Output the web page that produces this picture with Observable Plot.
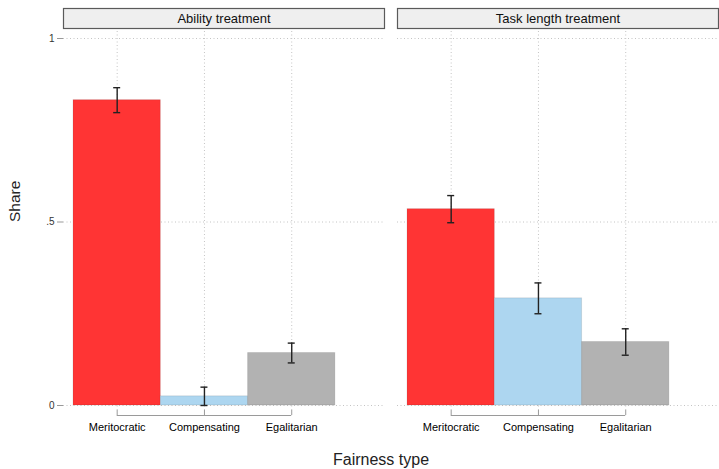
<!DOCTYPE html>
<html>
<head>
<meta charset="utf-8">
<script src="https://cdn.jsdelivr.net/npm/d3@7"></script>
<script src="https://cdn.jsdelivr.net/npm/@observablehq/plot@0.6"></script>
<style>
  body { margin: 0; background: #fff; }
</style>
</head>
<body>
<div id="chart"></div>
<script>
// Panels and categories
const treatments = ["Ability treatment", "Task length treatment"];
const fairnessTypes = ["Meritocratic", "Compensating", "Egalitarian"];

// Share of each fairness type, with 95% CI half-widths
const abilityShare = [0.832, 0.025, 0.143];
const abilityCI = [0.034, 0.025, 0.027];
const taskShare = [0.535, 0.292, 0.173];
const taskCI = [0.037, 0.042, 0.036];

// Y ticks
const yTicks = [0, 0.5, 1];
const yTickLabels = ["0", ".5", "1"];

const barColors = ["#ff3434", "#add6f0", "#b2b2b2"];

const rows = [];
treatments.forEach((t, k) => {
  const share = k === 0 ? abilityShare : taskShare;
  const ci = k === 0 ? abilityCI : taskCI;
  fairnessTypes.forEach((f, i) => {
    rows.push({treatment: t, type: f, i, share: share[i], lo: share[i] - ci[i], hi: share[i] + ci[i]});
  });
});

const grid = {stroke: "#c4c4c4", strokeOpacity: 1, strokeDasharray: "1,2.5"};

const chart = Plot.plot({
  width: 719,
  height: 469,
  marginTop: 38,
  marginBottom: 64,
  marginLeft: 63,
  marginRight: 1,
  style: {fontFamily: "'Liberation Sans', Arial, sans-serif", background: "#fff", overflow: "visible"},
  fx: {domain: treatments, paddingInner: 0.04, paddingOuter: 0, axis: null, label: null},
  x: {domain: [-0.615, 3.063], axis: null},
  y: {domain: [0, 1], axis: null},
  color: {domain: fairnessTypes, range: barColors},
  marks: [
    // facet header boxes and titles
    Plot.frame({fill: "#efefef", stroke: "#5a5a5a", strokeWidth: 1.2, insetTop: -30, insetBottom: 377}),
    Plot.text(treatments, {fx: d => d, text: d => d, frameAnchor: "top", lineAnchor: "middle", dy: -20, fontSize: 13, fill: "#111"}),
    // dotted grid
    Plot.gridY(yTicks, grid),
    Plot.ruleX(rows, {fx: "treatment", x: "i", y1: 1, y2: 0, insetTop: -7, insetBottom: -5, ...grid}),
    // bars
    Plot.rect(rows, {fx: "treatment", x1: d => d.i - 0.5, x2: d => d.i + 0.5, y1: 0, y2: "share", fill: "type", stroke: "#000", strokeOpacity: 0.1, strokeWidth: 1}),
    // confidence intervals
    Plot.ruleX(rows, {fx: "treatment", x: "i", y1: "hi", y2: "lo", stroke: "#222", strokeWidth: 1.4}),
    Plot.ruleY(rows, {fx: "treatment", y: "hi", x1: "i", x2: "i", insetLeft: -3.5, insetRight: -3.5, stroke: "#222", strokeWidth: 1.4}),
    Plot.ruleY(rows, {fx: "treatment", y: "lo", x1: "i", x2: "i", insetLeft: -3.5, insetRight: -3.5, stroke: "#222", strokeWidth: 1.4}),
    // category axis bracket
    Plot.ruleY(treatments, {fx: d => d, y: 0, x1: 0, x2: fairnessTypes.length - 1, dy: 10, stroke: "#9a9a9a"}),
    Plot.ruleX(rows, {fx: "treatment", x: "i", y1: 0, y2: 0, insetTop: -5, dy: 10, stroke: "#9a9a9a"}),
    Plot.text(rows, {fx: "treatment", x: "i", y: 0, text: "type", dy: 22, fontSize: 11, fill: "#000"}),
    // value axis
    Plot.axisY({ticks: yTicks, tickFormat: d => yTickLabels[yTicks.indexOf(d)], tickSize: 6, tickPadding: 3, fontSize: 10, stroke: "#999", fill: "#333", label: null, line: true, facetAnchor: "left"}),
    // axis titles
    Plot.text(["Share"], {facet: "super", text: d => d, frameAnchor: "left", rotate: -90, dx: -48, fontSize: 15.5, fill: "#222"}),
    Plot.text(["Fairness type"], {facet: "super", text: d => d, frameAnchor: "bottom", dy: 59, dx: -10, fontSize: 16, fill: "#222"})
  ]
});

document.getElementById("chart").appendChild(chart);
</script>
</body>
</html>
